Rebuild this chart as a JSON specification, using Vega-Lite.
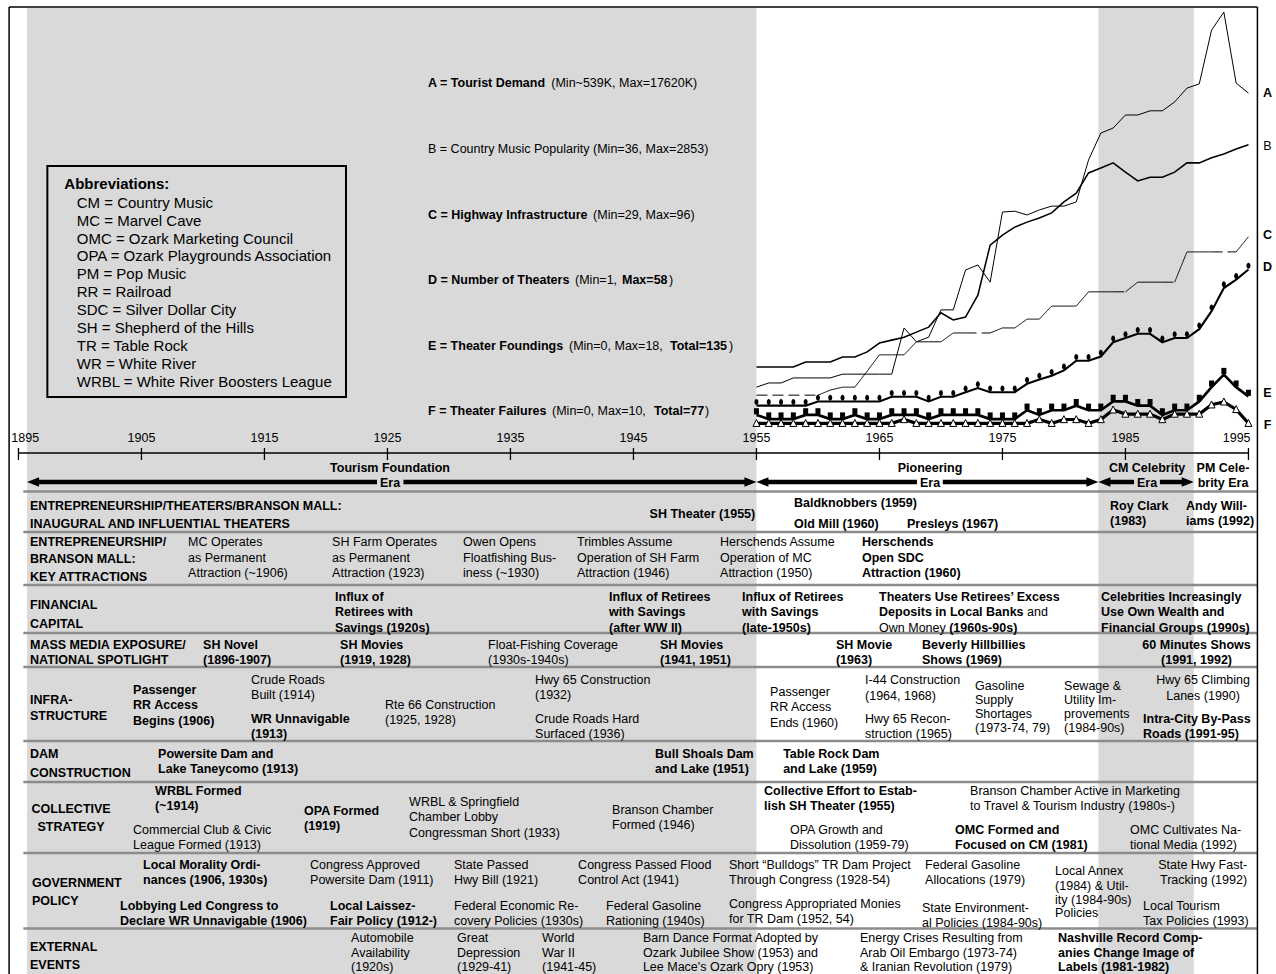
{
  "$schema": "https://vega.github.io/schema/vega-lite/v6.json",
  "width": 1276,
  "height": 974,
  "padding": 0,
  "autosize": {"type": "none"},
  "background": "white",
  "config": {"view": {"stroke": null}},
  "datasets": {
    "bands": [
      {"x": 1895.7, "x2": 1955, "y": 8, "y2": 974},
      {"x": 1982.8, "x2": 1990.55, "y": 8, "y2": 974}
    ],
    "legend_box": [{"x": 1897.35, "x2": 1921.63, "y": 166, "y2": 397}],
    "frame": [
      {"x": 1894.24, "x2": 1995.73, "y": 7, "y2": 7},
      {"x": 1995.73, "x2": 1995.73, "y": 7, "y2": 974},
      {"x": 1894.24, "x2": 1894.24, "y": 7, "y2": 974}
    ],
    "axis_rules": [
      {"x": 1895, "x2": 1995, "y": 453, "y2": 453},
      {"x": 1895, "x2": 1895, "y": 448, "y2": 460},
      {"x": 1905, "x2": 1905, "y": 448, "y2": 460},
      {"x": 1915, "x2": 1915, "y": 448, "y2": 460},
      {"x": 1925, "x2": 1925, "y": 448, "y2": 460},
      {"x": 1935, "x2": 1935, "y": 448, "y2": 460},
      {"x": 1945, "x2": 1945, "y": 448, "y2": 460},
      {"x": 1955, "x2": 1955, "y": 448, "y2": 460},
      {"x": 1965, "x2": 1965, "y": 448, "y2": 460},
      {"x": 1975, "x2": 1975, "y": 448, "y2": 460},
      {"x": 1985, "x2": 1985, "y": 448, "y2": 460},
      {"x": 1995, "x2": 1995, "y": 448, "y2": 460}
    ],
    "separators": [
      {"x": 1895.4, "x2": 1995.73, "y": 491.5, "y2": 491.5},
      {"x": 1895.4, "x2": 1995.73, "y": 532, "y2": 532},
      {"x": 1895.4, "x2": 1995.73, "y": 585, "y2": 585},
      {"x": 1895.4, "x2": 1995.73, "y": 633, "y2": 633},
      {"x": 1895.4, "x2": 1995.73, "y": 667, "y2": 667},
      {"x": 1895.4, "x2": 1995.73, "y": 741, "y2": 741},
      {"x": 1895.4, "x2": 1995.73, "y": 782, "y2": 782},
      {"x": 1895.4, "x2": 1995.73, "y": 853, "y2": 853},
      {"x": 1895.4, "x2": 1995.73, "y": 928.5, "y2": 928.5}
    ],
    "shafts": [
      {"x": 1896.3, "x2": 1924.15, "y": 482, "y2": 482},
      {"x": 1926.3, "x2": 1954.4, "y": 482, "y2": 482},
      {"x": 1955.6, "x2": 1968.05, "y": 482, "y2": 482},
      {"x": 1970.15, "x2": 1982.2, "y": 482, "y2": 482},
      {"x": 1983.4, "x2": 1985.7, "y": 482, "y2": 482},
      {"x": 1987.8, "x2": 1989.95, "y": 482, "y2": 482}
    ],
    "arrowheads": [
      {"x": 1895.7, "y": 482, "dir": "left"},
      {"x": 1955, "y": 482, "dir": "right"},
      {"x": 1955, "y": 482, "dir": "left"},
      {"x": 1982.8, "y": 482, "dir": "right"},
      {"x": 1982.8, "y": 482, "dir": "left"},
      {"x": 1990.55, "y": 482, "dir": "right"}
    ],
    "legend_title": [{"x": 1898.73, "y": 189.4, "t": "Abbreviations:"}],
    "legend_items": [
      {"x": 1899.74, "y": 207.7, "t": "CM = Country Music"},
      {"x": 1899.74, "y": 225.6, "t": "MC = Marvel Cave"},
      {"x": 1899.74, "y": 243.5, "t": "OMC = Ozark Marketing Council"},
      {"x": 1899.74, "y": 261.4, "t": "OPA = Ozark Playgrounds Association"},
      {"x": 1899.74, "y": 279.3, "t": "PM = Pop Music"},
      {"x": 1899.74, "y": 297.2, "t": "RR = Railroad"},
      {"x": 1899.74, "y": 315.1, "t": "SDC = Silver Dollar City"},
      {"x": 1899.74, "y": 333.0, "t": "SH = Shepherd of the Hills"},
      {"x": 1899.74, "y": 350.9, "t": "TR = Table Rock"},
      {"x": 1899.74, "y": 368.8, "t": "WR = White River"},
      {"x": 1899.74, "y": 386.7, "t": "WRBL = White River Boosters League"}
    ],
    "text_bold_left": [
      {"x": 1928.3, "y": 87.2, "t": "A = Tourist Demand"},
      {"x": 1928.3, "y": 218.5, "t": "C = Highway Infrastructure"},
      {"x": 1928.3, "y": 283.8, "t": "D = Number of Theaters"},
      {"x": 1944.07, "y": 283.8, "t": "Max=58"},
      {"x": 1928.3, "y": 349.5, "t": "E = Theater Foundings"},
      {"x": 1947.97, "y": 349.5, "t": "Total=135"},
      {"x": 1928.3, "y": 414.5, "t": "F = Theater Failures"},
      {"x": 1946.67, "y": 414.5, "t": "Total=77"},
      {"x": 1895.94, "y": 509.5, "t": "ENTREPRENEURSHIP/THEATERS/BRANSON MALL:"},
      {"x": 1895.94, "y": 527.5, "t": "INAUGURAL AND INFLUENTIAL THEATERS"},
      {"x": 1895.94, "y": 545.5, "t": "ENTREPRENEURSHIP/"},
      {"x": 1895.94, "y": 563, "t": "BRANSON MALL:"},
      {"x": 1895.94, "y": 581, "t": "KEY ATTRACTIONS"},
      {"x": 1895.94, "y": 608.5, "t": "FINANCIAL"},
      {"x": 1895.94, "y": 627.5, "t": "CAPITAL"},
      {"x": 1895.94, "y": 648.5, "t": "MASS MEDIA EXPOSURE/"},
      {"x": 1895.94, "y": 664, "t": "NATIONAL SPOTLIGHT"},
      {"x": 1895.94, "y": 703.5, "t": "INFRA-"},
      {"x": 1895.94, "y": 719.5, "t": "STRUCTURE"},
      {"x": 1895.94, "y": 757.5, "t": "DAM"},
      {"x": 1895.94, "y": 777, "t": "CONSTRUCTION"},
      {"x": 1896.1, "y": 886.5, "t": "GOVERNMENT"},
      {"x": 1896.1, "y": 904.5, "t": "POLICY"},
      {"x": 1895.94, "y": 950.5, "t": "EXTERNAL"},
      {"x": 1895.94, "y": 968.5, "t": "EVENTS"},
      {"x": 1958.05, "y": 506.5, "t": "Baldknobbers (1959)"},
      {"x": 1958.05, "y": 527.5, "t": "Old Mill (1960)"},
      {"x": 1967.24, "y": 527.5, "t": "Presleys (1967)"},
      {"x": 1983.75, "y": 509.5, "t": "Roy Clark\n(1983)"},
      {"x": 1989.92, "y": 509.5, "t": "Andy Will-\niams (1992)"},
      {"x": 1963.58, "y": 546, "t": "Herschends\nOpen SDC\nAttraction (1960)"},
      {"x": 1920.74, "y": 600.5, "t": "Influx of\nRetirees with\nSavings (1920s)"},
      {"x": 1943.02, "y": 600.5, "t": "Influx of Retirees\nwith Savings\n(after WW II)"},
      {"x": 1953.83, "y": 600.5, "t": "Influx of Retirees\nwith Savings\n(late-1950s)"},
      {"x": 1964.97, "y": 600.5, "t": "Theaters Use Retirees’ Excess\nDeposits in Local Banks"},
      {"x": 1970.67, "y": 631.5, "t": "(1960s-90s)"},
      {"x": 1983.02, "y": 600.5, "t": "Celebrities Increasingly\nUse Own Wealth and\nFinancial Groups (1990s)"},
      {"x": 1910.01, "y": 648.5, "t": "SH Novel\n(1896-1907)"},
      {"x": 1921.15, "y": 648.5, "t": "SH Movies\n(1919, 1928)"},
      {"x": 1947.16, "y": 648.5, "t": "SH Movies\n(1941, 1951)"},
      {"x": 1961.46, "y": 648.5, "t": "SH Movie\n(1963)"},
      {"x": 1968.46, "y": 648.5, "t": "Beverly Hillbillies\nShows (1969)"},
      {"x": 1904.32, "y": 693.5, "t": "Passenger\nRR Access\nBegins (1906)"},
      {"x": 1913.91, "y": 722.5, "t": "WR Unnavigable\n(1913)"},
      {"x": 1986.43, "y": 722.5, "t": "Intra-City By-Pass\nRoads (1991-95)"},
      {"x": 1906.35, "y": 757.5, "t": "Powersite Dam and\nLake Taneycomo (1913)"},
      {"x": 1946.76, "y": 757.5, "t": "Bull Shoals Dam\nand Lake  (1951)"},
      {"x": 1957.17, "y": 757.5, "t": "Table Rock Dam\nand Lake (1959)"},
      {"x": 1906.11, "y": 794.5, "t": "WRBL Formed\n(~1914)"},
      {"x": 1918.22, "y": 814.5, "t": "OPA Formed\n(1919)"},
      {"x": 1955.62, "y": 794.5, "t": "Collective Effort to Estab-\nlish SH Theater (1955)"},
      {"x": 1971.15, "y": 833.5, "t": "OMC Formed and\nFocused on CM (1981)"},
      {"x": 1905.13, "y": 868.5, "t": "Local Morality Ordi-\nnances (1906, 1930s)"},
      {"x": 1903.26, "y": 909.5, "t": "Lobbying Led Congress to\nDeclare WR Unnavigable (1906)"},
      {"x": 1920.33, "y": 909.5, "t": "Local Laissez-\nFair Policy (1912-)"},
      {"x": 1979.52, "y": 942, "t": "Nashville Record Comp-"},
      {"x": 1979.52, "y": 956.5, "t": "anies Change Image of"},
      {"x": 1979.52, "y": 971, "t": "Labels (1981-1982)"}
    ],
    "text_regular_left": [
      {"x": 1938.32, "y": 87.2, "t": "(Min~539K, Max=17620K)"},
      {"x": 1928.3, "y": 152.8, "t": "B = Country Music Popularity (Min=36, Max=2853)"},
      {"x": 1941.72, "y": 218.5, "t": "(Min=29, Max=96)"},
      {"x": 1940.25, "y": 283.8, "t": "(Min=1,"},
      {"x": 1947.89, "y": 283.8, "t": ")"},
      {"x": 1939.76, "y": 349.5, "t": "(Min=0, Max=18,"},
      {"x": 1952.77, "y": 349.5, "t": ")"},
      {"x": 1938.38, "y": 414.5, "t": "(Min=0, Max=10,"},
      {"x": 1950.82, "y": 414.5, "t": ")"},
      {"x": 1908.79, "y": 546, "t": "MC Operates\nas Permanent\nAttraction (~1906)"},
      {"x": 1920.5, "y": 546, "t": "SH Farm Operates\nas Permanent\nAttraction (1923)"},
      {"x": 1931.15, "y": 546, "t": "Owen Opens\nFloatfishing Bus-\niness (~1930)"},
      {"x": 1940.41, "y": 546, "t": "Trimbles Assume\nOperation of SH Farm\nAttraction (1946)"},
      {"x": 1952.04, "y": 546, "t": "Herschends Assume\nOperation of MC\nAttraction (1950)"},
      {"x": 1977.0, "y": 616, "t": "and"},
      {"x": 1964.97, "y": 631.5, "t": "Own Money"},
      {"x": 1933.18, "y": 648.5, "t": "Float-Fishing Coverage\n(1930s-1940s)"},
      {"x": 1913.91, "y": 683.5, "t": "Crude Roads\nBuilt (1914)"},
      {"x": 1924.8, "y": 708.5, "t": "Rte 66 Construction\n(1925, 1928)"},
      {"x": 1937.0, "y": 683.5, "t": "Hwy 65 Construction\n(1932)"},
      {"x": 1937.0, "y": 722.5, "t": "Crude Roads Hard\nSurfaced (1936)"},
      {"x": 1956.11, "y": 695.5, "t": "Passenger\nRR Access\nEnds (1960)"},
      {"x": 1963.83, "y": 684, "t": "I-44 Construction\n(1964, 1968)"},
      {"x": 1963.83, "y": 722.5, "t": "Hwy 65 Recon-\nstruction (1965)"},
      {"x": 1972.77, "y": 689.5, "t": "Gasoline"},
      {"x": 1972.77, "y": 703.5, "t": "Supply"},
      {"x": 1972.77, "y": 717.5, "t": "Shortages"},
      {"x": 1972.77, "y": 731.5, "t": "(1973-74, 79)"},
      {"x": 1980.01, "y": 689.5, "t": "Sewage &"},
      {"x": 1980.01, "y": 703.5, "t": "Utility Im-"},
      {"x": 1980.01, "y": 717.5, "t": "provements"},
      {"x": 1980.01, "y": 731.5, "t": "(1984-90s)"},
      {"x": 1904.32, "y": 833.5, "t": "Commercial Club & Civic\nLeague Formed (1913)"},
      {"x": 1926.76, "y": 805.5, "t": "WRBL & Springfield\nChamber Lobby\nCongressman Short (1933)"},
      {"x": 1943.26, "y": 813.5, "t": "Branson Chamber\nFormed (1946)"},
      {"x": 1972.37, "y": 794.5, "t": "Branson Chamber Active in Marketing\nto Travel & Tourism Industry (1980s-)"},
      {"x": 1957.72, "y": 833.5, "t": "OPA Growth and\nDissolution (1959-79)"},
      {"x": 1985.37, "y": 833.5, "t": "OMC Cultivates Na-\ntional Media (1992)"},
      {"x": 1918.71, "y": 868.5, "t": "Congress Approved\nPowersite Dam (1911)"},
      {"x": 1930.41, "y": 868.5, "t": "State Passed\nHwy Bill (1921)"},
      {"x": 1940.5, "y": 868.5, "t": "Congress Passed Flood\nControl Act (1941)"},
      {"x": 1952.77, "y": 868.5, "t": "Short “Bulldogs” TR Dam Project\nThrough Congress (1928-54)"},
      {"x": 1968.71, "y": 868.5, "t": "Federal Gasoline\nAllocations (1979)"},
      {"x": 1979.28, "y": 874.5, "t": "Local Annex"},
      {"x": 1979.28, "y": 890, "t": "(1984) & Util-"},
      {"x": 1979.28, "y": 904, "t": "ity (1984-90s)"},
      {"x": 1979.28, "y": 916.5, "t": "Policies"},
      {"x": 1930.41, "y": 909.5, "t": "Federal Economic Re-\ncovery Policies (1930s)"},
      {"x": 1942.77, "y": 909.5, "t": "Federal Gasoline\nRationing (1940s)"},
      {"x": 1952.77, "y": 907.5, "t": "Congress Appropriated Monies\nfor TR Dam (1952, 54)"},
      {"x": 1968.46, "y": 911.5, "t": "State Environment-\nal Policies (1984-90s)"},
      {"x": 1986.43, "y": 909.5, "t": "Local Tourism\nTax Policies (1993)"},
      {"x": 1922.04, "y": 942, "t": "Automobile"},
      {"x": 1922.04, "y": 956.5, "t": "Availability"},
      {"x": 1922.04, "y": 971, "t": "(1920s)"},
      {"x": 1930.66, "y": 942, "t": "Great"},
      {"x": 1930.66, "y": 956.5, "t": "Depression"},
      {"x": 1930.66, "y": 971, "t": "(1929-41)"},
      {"x": 1937.57, "y": 942, "t": "World"},
      {"x": 1937.57, "y": 956.5, "t": "War II"},
      {"x": 1937.57, "y": 971, "t": "(1941-45)"},
      {"x": 1945.77, "y": 942, "t": "Barn Dance Format Adopted by"},
      {"x": 1945.77, "y": 956.5, "t": "Ozark Jubilee Show (1953) and"},
      {"x": 1945.77, "y": 971, "t": "Lee Mace's Ozark Opry (1953)"},
      {"x": 1963.42, "y": 942, "t": "Energy Crises Resulting from"},
      {"x": 1963.42, "y": 956.5, "t": "Arab Oil Embargo (1973-74)"},
      {"x": 1963.42, "y": 971, "t": "& Iranian Revolution (1979)"}
    ],
    "text_bold_center": [
      {"x": 1925.21, "y": 472, "t": "Tourism Foundation"},
      {"x": 1925.21, "y": 486.5, "t": "Era"},
      {"x": 1969.11, "y": 472, "t": "Pioneering"},
      {"x": 1969.11, "y": 486.5, "t": "Era"},
      {"x": 1986.76, "y": 472, "t": "CM Celebrity"},
      {"x": 1986.76, "y": 486.5, "t": "Era"},
      {"x": 1992.93, "y": 472, "t": "PM Cele-"},
      {"x": 1992.93, "y": 486.5, "t": "brity Era"},
      {"x": 1899.28, "y": 812.5, "t": "COLLECTIVE"},
      {"x": 1899.28, "y": 830.5, "t": "STRATEGY"},
      {"x": 1990.78, "y": 648.5, "t": "60 Minutes Shows\n(1991, 1992)"}
    ],
    "text_regular_center": [
      {"x": 1895.55, "y": 441.5, "t": "1895"},
      {"x": 1905, "y": 441.5, "t": "1905"},
      {"x": 1915, "y": 441.5, "t": "1915"},
      {"x": 1925, "y": 441.5, "t": "1925"},
      {"x": 1935, "y": 441.5, "t": "1935"},
      {"x": 1945, "y": 441.5, "t": "1945"},
      {"x": 1955, "y": 441.5, "t": "1955"},
      {"x": 1965, "y": 441.5, "t": "1965"},
      {"x": 1975, "y": 441.5, "t": "1975"},
      {"x": 1985, "y": 441.5, "t": "1985"},
      {"x": 1994.04, "y": 441.5, "t": "1995"},
      {"x": 1991.31, "y": 684, "t": "Hwy 65 Climbing\nLanes (1990)"}
    ],
    "text_bold_right": [
      {"x": 1954.9, "y": 517.5, "t": "SH Theater (1955)"}
    ],
    "text_regular_right": [
      {"x": 1994.89, "y": 868.5, "t": "State Hwy Fast-\nTracking (1992)"}
    ],
    "series": [
      {"s": "A", "year": 1955, "v": 10.2}, {"s": "A", "year": 1956, "v": 11.2}, {"s": "A", "year": 1957, "v": 11.2}, {"s": "A", "year": 1958, "v": 12.4}, {"s": "A", "year": 1959, "v": 12.4}, {"s": "A", "year": 1960, "v": 12.4}, {"s": "A", "year": 1961, "v": 12.4}, {"s": "A", "year": 1962, "v": 13.3}, {"s": "A", "year": 1963, "v": 13.3}, {"s": "A", "year": 1964, "v": 13.3}, {"s": "A", "year": 1965, "v": 13.3}, {"s": "A", "year": 1966, "v": 13.3}, {"s": "A", "year": 1967, "v": 24.3}, {"s": "A", "year": 1968, "v": 21.0}, {"s": "A", "year": 1969, "v": 22.1}, {"s": "A", "year": 1970, "v": 28.6}, {"s": "A", "year": 1971, "v": 28.6}, {"s": "A", "year": 1972, "v": 38.1}, {"s": "A", "year": 1973, "v": 39.3}, {"s": "A", "year": 1974, "v": 35.2}, {"s": "A", "year": 1975, "v": 51.9}, {"s": "A", "year": 1976, "v": 52.1}, {"s": "A", "year": 1977, "v": 51.2}, {"s": "A", "year": 1978, "v": 52.4}, {"s": "A", "year": 1979, "v": 53.3}, {"s": "A", "year": 1980, "v": 53.3}, {"s": "A", "year": 1981, "v": 54.3}, {"s": "A", "year": 1982, "v": 64.3}, {"s": "A", "year": 1983, "v": 70.7}, {"s": "A", "year": 1984, "v": 71.9}, {"s": "A", "year": 1985, "v": 75.0}, {"s": "A", "year": 1986, "v": 75.0}, {"s": "A", "year": 1987, "v": 76.0}, {"s": "A", "year": 1988, "v": 76.0}, {"s": "A", "year": 1989, "v": 78.1}, {"s": "A", "year": 1990, "v": 81.4}, {"s": "A", "year": 1991, "v": 82.4}, {"s": "A", "year": 1992, "v": 95.2}, {"s": "A", "year": 1993, "v": 99.5}, {"s": "A", "year": 1994, "v": 82.6}, {"s": "A", "year": 1995, "v": 80.2},
      {"s": "B", "year": 1955, "v": 15.0}, {"s": "B", "year": 1956, "v": 15.0}, {"s": "B", "year": 1957, "v": 15.0}, {"s": "B", "year": 1958, "v": 15.0}, {"s": "B", "year": 1959, "v": 16.2}, {"s": "B", "year": 1960, "v": 16.2}, {"s": "B", "year": 1961, "v": 16.2}, {"s": "B", "year": 1962, "v": 17.4}, {"s": "B", "year": 1963, "v": 17.4}, {"s": "B", "year": 1964, "v": 18.6}, {"s": "B", "year": 1965, "v": 20.7}, {"s": "B", "year": 1966, "v": 21.4}, {"s": "B", "year": 1967, "v": 22.1}, {"s": "B", "year": 1968, "v": 23.3}, {"s": "B", "year": 1969, "v": 24.5}, {"s": "B", "year": 1970, "v": 27.9}, {"s": "B", "year": 1971, "v": 26.2}, {"s": "B", "year": 1972, "v": 26.9}, {"s": "B", "year": 1973, "v": 32.1}, {"s": "B", "year": 1974, "v": 44.0}, {"s": "B", "year": 1975, "v": 46.4}, {"s": "B", "year": 1976, "v": 48.3}, {"s": "B", "year": 1977, "v": 49.5}, {"s": "B", "year": 1978, "v": 50.5}, {"s": "B", "year": 1979, "v": 51.7}, {"s": "B", "year": 1980, "v": 54.3}, {"s": "B", "year": 1981, "v": 56.4}, {"s": "B", "year": 1982, "v": 61.2}, {"s": "B", "year": 1983, "v": 62.4}, {"s": "B", "year": 1984, "v": 63.6}, {"s": "B", "year": 1985, "v": 61.4}, {"s": "B", "year": 1986, "v": 59.3}, {"s": "B", "year": 1987, "v": 60.2}, {"s": "B", "year": 1988, "v": 60.2}, {"s": "B", "year": 1989, "v": 61.4}, {"s": "B", "year": 1990, "v": 63.6}, {"s": "B", "year": 1991, "v": 63.6}, {"s": "B", "year": 1992, "v": 64.8}, {"s": "B", "year": 1993, "v": 65.7}, {"s": "B", "year": 1994, "v": 66.9}, {"s": "B", "year": 1995, "v": 67.9},
      {"s": "D", "year": 1955, "v": 5.8}, {"s": "D", "year": 1956, "v": 5.8}, {"s": "D", "year": 1957, "v": 5.8}, {"s": "D", "year": 1958, "v": 5.8}, {"s": "D", "year": 1959, "v": 5.8}, {"s": "D", "year": 1960, "v": 6.8}, {"s": "D", "year": 1961, "v": 6.8}, {"s": "D", "year": 1962, "v": 6.8}, {"s": "D", "year": 1963, "v": 6.8}, {"s": "D", "year": 1964, "v": 6.8}, {"s": "D", "year": 1965, "v": 6.8}, {"s": "D", "year": 1966, "v": 7.9}, {"s": "D", "year": 1967, "v": 7.9}, {"s": "D", "year": 1968, "v": 7.9}, {"s": "D", "year": 1969, "v": 6.8}, {"s": "D", "year": 1970, "v": 7.9}, {"s": "D", "year": 1971, "v": 7.9}, {"s": "D", "year": 1972, "v": 9.0}, {"s": "D", "year": 1973, "v": 10.0}, {"s": "D", "year": 1974, "v": 9.0}, {"s": "D", "year": 1975, "v": 9.0}, {"s": "D", "year": 1976, "v": 9.0}, {"s": "D", "year": 1977, "v": 11.0}, {"s": "D", "year": 1978, "v": 12.0}, {"s": "D", "year": 1979, "v": 12.9}, {"s": "D", "year": 1980, "v": 14.2}, {"s": "D", "year": 1981, "v": 16.5}, {"s": "D", "year": 1982, "v": 16.5}, {"s": "D", "year": 1983, "v": 17.5}, {"s": "D", "year": 1984, "v": 20.9}, {"s": "D", "year": 1985, "v": 21.9}, {"s": "D", "year": 1986, "v": 22.9}, {"s": "D", "year": 1987, "v": 22.9}, {"s": "D", "year": 1988, "v": 20.9}, {"s": "D", "year": 1989, "v": 21.9}, {"s": "D", "year": 1990, "v": 21.9}, {"s": "D", "year": 1991, "v": 24.0}, {"s": "D", "year": 1992, "v": 28.3}, {"s": "D", "year": 1993, "v": 33.8}, {"s": "D", "year": 1994, "v": 35.8}, {"s": "D", "year": 1995, "v": 38.2},
      {"s": "E", "year": 1955, "v": 3.6}, {"s": "E", "year": 1956, "v": 2.6}, {"s": "E", "year": 1957, "v": 2.6}, {"s": "E", "year": 1958, "v": 2.6}, {"s": "E", "year": 1959, "v": 3.6}, {"s": "E", "year": 1960, "v": 3.6}, {"s": "E", "year": 1961, "v": 2.6}, {"s": "E", "year": 1962, "v": 2.6}, {"s": "E", "year": 1963, "v": 3.6}, {"s": "E", "year": 1964, "v": 2.6}, {"s": "E", "year": 1965, "v": 2.6}, {"s": "E", "year": 1966, "v": 3.6}, {"s": "E", "year": 1967, "v": 3.6}, {"s": "E", "year": 1968, "v": 3.6}, {"s": "E", "year": 1969, "v": 2.6}, {"s": "E", "year": 1970, "v": 3.6}, {"s": "E", "year": 1971, "v": 3.6}, {"s": "E", "year": 1972, "v": 3.6}, {"s": "E", "year": 1973, "v": 3.6}, {"s": "E", "year": 1974, "v": 2.6}, {"s": "E", "year": 1975, "v": 2.6}, {"s": "E", "year": 1976, "v": 2.6}, {"s": "E", "year": 1977, "v": 4.7}, {"s": "E", "year": 1978, "v": 3.6}, {"s": "E", "year": 1979, "v": 4.7}, {"s": "E", "year": 1980, "v": 4.7}, {"s": "E", "year": 1981, "v": 5.8}, {"s": "E", "year": 1982, "v": 4.7}, {"s": "E", "year": 1983, "v": 4.7}, {"s": "E", "year": 1984, "v": 6.8}, {"s": "E", "year": 1985, "v": 6.8}, {"s": "E", "year": 1986, "v": 5.8}, {"s": "E", "year": 1987, "v": 5.8}, {"s": "E", "year": 1988, "v": 3.6}, {"s": "E", "year": 1989, "v": 4.7}, {"s": "E", "year": 1990, "v": 4.7}, {"s": "E", "year": 1991, "v": 6.8}, {"s": "E", "year": 1992, "v": 10.2}, {"s": "E", "year": 1993, "v": 13.2}, {"s": "E", "year": 1994, "v": 10.2}, {"s": "E", "year": 1995, "v": 8.0},
      {"s": "F", "year": 1955, "v": 1.6}, {"s": "F", "year": 1956, "v": 1.6}, {"s": "F", "year": 1957, "v": 1.6}, {"s": "F", "year": 1958, "v": 1.6}, {"s": "F", "year": 1959, "v": 1.6}, {"s": "F", "year": 1960, "v": 1.6}, {"s": "F", "year": 1961, "v": 1.6}, {"s": "F", "year": 1962, "v": 1.6}, {"s": "F", "year": 1963, "v": 1.6}, {"s": "F", "year": 1964, "v": 1.6}, {"s": "F", "year": 1965, "v": 1.6}, {"s": "F", "year": 1966, "v": 1.6}, {"s": "F", "year": 1967, "v": 2.5}, {"s": "F", "year": 1968, "v": 1.6}, {"s": "F", "year": 1969, "v": 1.6}, {"s": "F", "year": 1970, "v": 1.6}, {"s": "F", "year": 1971, "v": 1.6}, {"s": "F", "year": 1972, "v": 1.6}, {"s": "F", "year": 1973, "v": 1.6}, {"s": "F", "year": 1974, "v": 1.6}, {"s": "F", "year": 1975, "v": 1.6}, {"s": "F", "year": 1976, "v": 1.6}, {"s": "F", "year": 1977, "v": 1.6}, {"s": "F", "year": 1978, "v": 2.5}, {"s": "F", "year": 1979, "v": 1.6}, {"s": "F", "year": 1980, "v": 2.5}, {"s": "F", "year": 1981, "v": 2.5}, {"s": "F", "year": 1982, "v": 1.6}, {"s": "F", "year": 1983, "v": 2.5}, {"s": "F", "year": 1984, "v": 4.8}, {"s": "F", "year": 1985, "v": 3.8}, {"s": "F", "year": 1986, "v": 3.8}, {"s": "F", "year": 1987, "v": 3.8}, {"s": "F", "year": 1988, "v": 2.5}, {"s": "F", "year": 1989, "v": 3.8}, {"s": "F", "year": 1990, "v": 3.8}, {"s": "F", "year": 1991, "v": 3.8}, {"s": "F", "year": 1992, "v": 6.0}, {"s": "F", "year": 1993, "v": 6.7}, {"s": "F", "year": 1994, "v": 4.9}, {"s": "F", "year": 1995, "v": 1.6}
    ],
    "highway": [
      {"g": "g1", "kind": "interpolated", "year": 1955, "v": 8.3}, {"g": "g1", "kind": "interpolated", "year": 1956, "v": 8.3}, {"g": "g1", "kind": "interpolated", "year": 1957, "v": 8.3}, {"g": "g1", "kind": "interpolated", "year": 1958, "v": 8.3}, {"g": "g1", "kind": "interpolated", "year": 1959, "v": 8.3}, {"g": "g1", "kind": "interpolated", "year": 1960, "v": 8.3},
      {"g": "g2", "kind": "measured", "year": 1960, "v": 8.3}, {"g": "g2", "kind": "measured", "year": 1961, "v": 9.5}, {"g": "g2", "kind": "measured", "year": 1962, "v": 10.2}, {"g": "g2", "kind": "measured", "year": 1963, "v": 10.2}, {"g": "g2", "kind": "measured", "year": 1964, "v": 14.0}, {"g": "g2", "kind": "measured", "year": 1965, "v": 17.9}, {"g": "g2", "kind": "measured", "year": 1966, "v": 17.9}, {"g": "g2", "kind": "measured", "year": 1967, "v": 17.9}, {"g": "g2", "kind": "measured", "year": 1968, "v": 21.0}, {"g": "g2", "kind": "measured", "year": 1969, "v": 21.0}, {"g": "g2", "kind": "measured", "year": 1970, "v": 21.0}, {"g": "g2", "kind": "measured", "year": 1971, "v": 23.1}, {"g": "g2", "kind": "measured", "year": 1972, "v": 23.1},
      {"g": "g3", "kind": "interpolated", "year": 1972, "v": 23.1}, {"g": "g3", "kind": "interpolated", "year": 1973, "v": 23.1}, {"g": "g3", "kind": "interpolated", "year": 1974, "v": 23.1},
      {"g": "g4", "kind": "measured", "year": 1974, "v": 23.1}, {"g": "g4", "kind": "measured", "year": 1975, "v": 24.3}, {"g": "g4", "kind": "measured", "year": 1976, "v": 24.3}, {"g": "g4", "kind": "measured", "year": 1977, "v": 26.4}, {"g": "g4", "kind": "measured", "year": 1978, "v": 26.4}, {"g": "g4", "kind": "measured", "year": 1979, "v": 29.5}, {"g": "g4", "kind": "measured", "year": 1980, "v": 29.5}, {"g": "g4", "kind": "measured", "year": 1981, "v": 29.5}, {"g": "g4", "kind": "measured", "year": 1982, "v": 32.9}, {"g": "g4", "kind": "measured", "year": 1983, "v": 32.9}, {"g": "g4", "kind": "measured", "year": 1984, "v": 32.9},
      {"g": "g5", "kind": "interpolated", "year": 1984, "v": 32.9}, {"g": "g5", "kind": "interpolated", "year": 1985, "v": 32.9},
      {"g": "g6", "kind": "measured", "year": 1985, "v": 32.9}, {"g": "g6", "kind": "measured", "year": 1986, "v": 35.2}, {"g": "g6", "kind": "measured", "year": 1987, "v": 35.2}, {"g": "g6", "kind": "measured", "year": 1988, "v": 35.2},
      {"g": "g7", "kind": "interpolated", "year": 1988, "v": 35.2}, {"g": "g7", "kind": "interpolated", "year": 1989, "v": 35.2},
      {"g": "g8", "kind": "measured", "year": 1989, "v": 35.2}, {"g": "g8", "kind": "measured", "year": 1990, "v": 42.4}, {"g": "g8", "kind": "measured", "year": 1991, "v": 42.4}, {"g": "g8", "kind": "measured", "year": 1992, "v": 42.4},
      {"g": "g9", "kind": "interpolated", "year": 1992, "v": 42.4}, {"g": "g9", "kind": "interpolated", "year": 1993, "v": 42.4}, {"g": "g9", "kind": "interpolated", "year": 1994, "v": 42.4},
      {"g": "g10", "kind": "measured", "year": 1994, "v": 42.4}, {"g": "g10", "kind": "measured", "year": 1995, "v": 46.0}
    ],
    "series_letters": [
      {"s": "A", "year": 1996.55, "v": 80.2},
      {"s": "B", "year": 1996.55, "v": 67.6},
      {"s": "C", "year": 1996.55, "v": 46.4},
      {"s": "D", "year": 1996.55, "v": 38.8},
      {"s": "E", "year": 1996.55, "v": 8.8},
      {"s": "F", "year": 1996.55, "v": 1.2}
    ]
  },
  "resolve": {"scale": {"y": "independent"}},
  "layer": [
    {
      "layer": [
        {
          "data": {"name": "bands"},
          "mark": {"type": "rect", "fill": "#d9d9d9"},
          "encoding": {
            "x": {"field": "x", "type": "quantitative", "scale": {"domain": [1893.5, 1997.24], "nice": false, "zero": false}, "axis": null},
            "x2": {"field": "x2"},
            "y": {"field": "y", "type": "quantitative", "scale": {"domain": [0, 974], "reverse": true, "nice": false, "zero": false}, "axis": null},
            "y2": {"field": "y2"}
          }
        },
        {
          "data": {"name": "legend_box"},
          "mark": {"type": "rect", "fillOpacity": 0, "stroke": "black", "strokeWidth": 2},
          "encoding": {
            "x": {"field": "x", "type": "quantitative", "scale": {"domain": [1893.5, 1997.24], "nice": false, "zero": false}, "axis": null},
            "x2": {"field": "x2"},
            "y": {"field": "y", "type": "quantitative", "scale": {"domain": [0, 974], "reverse": true, "nice": false, "zero": false}, "axis": null},
            "y2": {"field": "y2"}
          }
        },
        {
          "data": {"name": "separators"},
          "mark": {"type": "rule", "color": "#8c8c8c", "strokeWidth": 2.5},
          "encoding": {
            "x": {"field": "x", "type": "quantitative", "scale": {"domain": [1893.5, 1997.24], "nice": false, "zero": false}, "axis": null},
            "x2": {"field": "x2"},
            "y": {"field": "y", "type": "quantitative", "scale": {"domain": [0, 974], "reverse": true, "nice": false, "zero": false}, "axis": null},
            "y2": {"field": "y2"}
          }
        },
        {
          "data": {"name": "frame"},
          "mark": {"type": "rule", "color": "black", "strokeWidth": 1.5},
          "encoding": {
            "x": {"field": "x", "type": "quantitative", "scale": {"domain": [1893.5, 1997.24], "nice": false, "zero": false}, "axis": null},
            "x2": {"field": "x2"},
            "y": {"field": "y", "type": "quantitative", "scale": {"domain": [0, 974], "reverse": true, "nice": false, "zero": false}, "axis": null},
            "y2": {"field": "y2"}
          }
        },
        {
          "data": {"name": "axis_rules"},
          "mark": {"type": "rule", "color": "black", "strokeWidth": 1.3},
          "encoding": {
            "x": {"field": "x", "type": "quantitative", "scale": {"domain": [1893.5, 1997.24], "nice": false, "zero": false}, "axis": null},
            "x2": {"field": "x2"},
            "y": {"field": "y", "type": "quantitative", "scale": {"domain": [0, 974], "reverse": true, "nice": false, "zero": false}, "axis": null},
            "y2": {"field": "y2"}
          }
        },
        {
          "data": {"name": "shafts"},
          "mark": {"type": "rule", "color": "black", "strokeWidth": 4.5, "strokeCap": "butt"},
          "encoding": {
            "x": {"field": "x", "type": "quantitative", "scale": {"domain": [1893.5, 1997.24], "nice": false, "zero": false}, "axis": null},
            "x2": {"field": "x2"},
            "y": {"field": "y", "type": "quantitative", "scale": {"domain": [0, 974], "reverse": true, "nice": false, "zero": false}, "axis": null},
            "y2": {"field": "y2"}
          }
        },
        {
          "data": {"name": "arrowheads"},
          "mark": {"type": "point", "filled": true, "color": "black", "size": 144, "opacity": 1},
          "encoding": {
            "x": {"field": "x", "type": "quantitative", "scale": {"domain": [1893.5, 1997.24], "nice": false, "zero": false}, "axis": null},
            "y": {"field": "y", "type": "quantitative", "scale": {"domain": [0, 974], "reverse": true, "nice": false, "zero": false}, "axis": null},
            "shape": {"field": "dir", "type": "nominal", "scale": {"domain": ["left", "right"], "range": ["M0,0L2,-0.8L2,0.8Z", "M0,0L-2,-0.8L-2,0.8Z"]}, "legend": null}
          }
        },
        {
          "data": {"name": "text_bold_left"},
          "mark": {"type": "text", "align": "left", "baseline": "alphabetic", "font": "Liberation Sans", "fontSize": 12.5, "fontWeight": "bold", "lineBreak": "\n", "lineHeight": 15.5, "color": "black"},
          "encoding": {
            "x": {"field": "x", "type": "quantitative", "scale": {"domain": [1893.5, 1997.24], "nice": false, "zero": false}, "axis": null},
            "y": {"field": "y", "type": "quantitative", "scale": {"domain": [0, 974], "reverse": true, "nice": false, "zero": false}, "axis": null},
            "text": {"field": "t"}
          }
        },
        {
          "data": {"name": "text_regular_left"},
          "mark": {"type": "text", "align": "left", "baseline": "alphabetic", "font": "Liberation Sans", "fontSize": 12.5, "lineBreak": "\n", "lineHeight": 15.5, "color": "black"},
          "encoding": {
            "x": {"field": "x", "type": "quantitative", "scale": {"domain": [1893.5, 1997.24], "nice": false, "zero": false}, "axis": null},
            "y": {"field": "y", "type": "quantitative", "scale": {"domain": [0, 974], "reverse": true, "nice": false, "zero": false}, "axis": null},
            "text": {"field": "t"}
          }
        },
        {
          "data": {"name": "text_bold_center"},
          "mark": {"type": "text", "align": "center", "baseline": "alphabetic", "font": "Liberation Sans", "fontSize": 12.5, "fontWeight": "bold", "lineBreak": "\n", "lineHeight": 15.5, "color": "black"},
          "encoding": {
            "x": {"field": "x", "type": "quantitative", "scale": {"domain": [1893.5, 1997.24], "nice": false, "zero": false}, "axis": null},
            "y": {"field": "y", "type": "quantitative", "scale": {"domain": [0, 974], "reverse": true, "nice": false, "zero": false}, "axis": null},
            "text": {"field": "t"}
          }
        },
        {
          "data": {"name": "text_regular_center"},
          "mark": {"type": "text", "align": "center", "baseline": "alphabetic", "font": "Liberation Sans", "fontSize": 12.5, "lineBreak": "\n", "lineHeight": 15.5, "color": "black"},
          "encoding": {
            "x": {"field": "x", "type": "quantitative", "scale": {"domain": [1893.5, 1997.24], "nice": false, "zero": false}, "axis": null},
            "y": {"field": "y", "type": "quantitative", "scale": {"domain": [0, 974], "reverse": true, "nice": false, "zero": false}, "axis": null},
            "text": {"field": "t"}
          }
        },
        {
          "data": {"name": "text_bold_right"},
          "mark": {"type": "text", "align": "right", "baseline": "alphabetic", "font": "Liberation Sans", "fontSize": 12.5, "fontWeight": "bold", "lineBreak": "\n", "lineHeight": 15.5, "color": "black"},
          "encoding": {
            "x": {"field": "x", "type": "quantitative", "scale": {"domain": [1893.5, 1997.24], "nice": false, "zero": false}, "axis": null},
            "y": {"field": "y", "type": "quantitative", "scale": {"domain": [0, 974], "reverse": true, "nice": false, "zero": false}, "axis": null},
            "text": {"field": "t"}
          }
        },
        {
          "data": {"name": "text_regular_right"},
          "mark": {"type": "text", "align": "right", "baseline": "alphabetic", "font": "Liberation Sans", "fontSize": 12.5, "lineBreak": "\n", "lineHeight": 15.5, "color": "black"},
          "encoding": {
            "x": {"field": "x", "type": "quantitative", "scale": {"domain": [1893.5, 1997.24], "nice": false, "zero": false}, "axis": null},
            "y": {"field": "y", "type": "quantitative", "scale": {"domain": [0, 974], "reverse": true, "nice": false, "zero": false}, "axis": null},
            "text": {"field": "t"}
          }
        },
        {
          "data": {"name": "legend_title"},
          "mark": {"type": "text", "align": "left", "baseline": "alphabetic", "font": "Liberation Sans", "fontSize": 15, "fontWeight": "bold", "color": "black"},
          "encoding": {
            "x": {"field": "x", "type": "quantitative", "scale": {"domain": [1893.5, 1997.24], "nice": false, "zero": false}, "axis": null},
            "y": {"field": "y", "type": "quantitative", "scale": {"domain": [0, 974], "reverse": true, "nice": false, "zero": false}, "axis": null},
            "text": {"field": "t"}
          }
        },
        {
          "data": {"name": "legend_items"},
          "mark": {"type": "text", "align": "left", "baseline": "alphabetic", "font": "Liberation Sans", "fontSize": 15, "color": "black"},
          "encoding": {
            "x": {"field": "x", "type": "quantitative", "scale": {"domain": [1893.5, 1997.24], "nice": false, "zero": false}, "axis": null},
            "y": {"field": "y", "type": "quantitative", "scale": {"domain": [0, 974], "reverse": true, "nice": false, "zero": false}, "axis": null},
            "text": {"field": "t"}
          }
        }
      ]
    },
    {
      "layer": [
        {
          "data": {"name": "series"},
          "mark": {"type": "line", "color": "black"},
          "encoding": {
            "x": {"field": "year", "type": "quantitative", "scale": {"domain": [1893.5, 1997.24], "nice": false, "zero": false}, "axis": null},
            "y": {"field": "v", "type": "quantitative", "scale": {"domain": [-129.52, 102.38], "nice": false, "zero": false}, "axis": null},
            "detail": {"field": "s", "type": "nominal"},
            "strokeWidth": {"field": "s", "type": "nominal", "scale": {"domain": ["A", "B", "D", "E", "F"], "range": [1, 3.2, 1.2, 1.2, 1]}, "legend": null}
          }
        },
        {
          "data": {"name": "highway"},
          "mark": {"type": "line", "color": "black", "strokeWidth": 1},
          "encoding": {
            "x": {"field": "year", "type": "quantitative", "scale": {"domain": [1893.5, 1997.24], "nice": false, "zero": false}, "axis": null},
            "y": {"field": "v", "type": "quantitative", "scale": {"domain": [-129.52, 102.38], "nice": false, "zero": false}, "axis": null},
            "detail": {"field": "g", "type": "nominal"},
            "strokeDash": {"field": "kind", "type": "nominal", "scale": {"domain": ["measured", "interpolated"], "range": [[1, 0], [11, 5]]}, "legend": null}
          }
        },
        {
          "data": {"name": "series"},
          "transform": [{"filter": "datum.s === 'D'"}],
          "mark": {"type": "point", "shape": "M0,-2.7A0.8,1.2,0,1,1,0,-0.3A0.8,1.2,0,1,1,0,-2.7Z", "filled": true, "color": "black", "size": 25, "opacity": 1},
          "encoding": {
            "x": {"field": "year", "type": "quantitative", "scale": {"domain": [1893.5, 1997.24], "nice": false, "zero": false}, "axis": null},
            "y": {"field": "v", "type": "quantitative", "scale": {"domain": [-129.52, 102.38], "nice": false, "zero": false}, "axis": null}
          }
        },
        {
          "data": {"name": "series"},
          "transform": [{"filter": "datum.s === 'E'"}],
          "mark": {"type": "point", "shape": "M-0.9,-2.4L0.9,-2.4L0.9,-0.2L-0.9,-0.2Z", "filled": true, "color": "black", "size": 31, "opacity": 1},
          "encoding": {
            "x": {"field": "year", "type": "quantitative", "scale": {"domain": [1893.5, 1997.24], "nice": false, "zero": false}, "axis": null},
            "y": {"field": "v", "type": "quantitative", "scale": {"domain": [-129.52, 102.38], "nice": false, "zero": false}, "axis": null}
          }
        },
        {
          "data": {"name": "series"},
          "transform": [{"filter": "datum.s === 'F'"}],
          "mark": {"type": "point", "shape": "M0,-1.1L1,0.9L-1,0.9Z", "filled": true, "fill": "white", "stroke": "black", "strokeWidth": 1, "size": 49, "opacity": 1},
          "encoding": {
            "x": {"field": "year", "type": "quantitative", "scale": {"domain": [1893.5, 1997.24], "nice": false, "zero": false}, "axis": null},
            "y": {"field": "v", "type": "quantitative", "scale": {"domain": [-129.52, 102.38], "nice": false, "zero": false}, "axis": null}
          }
        },
        {
          "data": {"name": "series_letters"},
          "transform": [{"filter": "datum.s !== 'B'"}],
          "mark": {"type": "text", "align": "center", "baseline": "middle", "font": "Liberation Sans", "fontSize": 12.5, "fontWeight": "bold", "color": "black"},
          "encoding": {
            "x": {"field": "year", "type": "quantitative", "scale": {"domain": [1893.5, 1997.24], "nice": false, "zero": false}, "axis": null},
            "y": {"field": "v", "type": "quantitative", "scale": {"domain": [-129.52, 102.38], "nice": false, "zero": false}, "axis": null},
            "text": {"field": "s"}
          }
        },
        {
          "data": {"name": "series_letters"},
          "transform": [{"filter": "datum.s === 'B'"}],
          "mark": {"type": "text", "align": "center", "baseline": "middle", "font": "Liberation Sans", "fontSize": 12.5, "color": "black"},
          "encoding": {
            "x": {"field": "year", "type": "quantitative", "scale": {"domain": [1893.5, 1997.24], "nice": false, "zero": false}, "axis": null},
            "y": {"field": "v", "type": "quantitative", "scale": {"domain": [-129.52, 102.38], "nice": false, "zero": false}, "axis": null},
            "text": {"field": "s"}
          }
        }
      ]
    }
  ]
}
